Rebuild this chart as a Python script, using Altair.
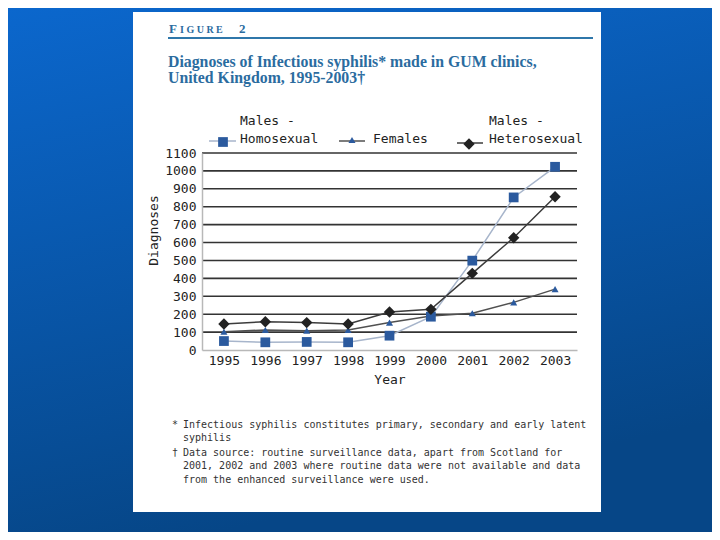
import altair as alt
import pandas as pd

# ---- data ----
years = [1995, 1996, 1997, 1998, 1999, 2000, 2001, 2002, 2003]
homosexual = [50, 43, 45, 43, 80, 186, 499, 852, 1023]
females = [102, 112, 108, 112, 153, 190, 205, 266, 340]
heterosexual = [145, 158, 153, 145, 212, 227, 428, 627, 856]
series_names = ["Males - Homosexual", "Females", "Males - Heterosexual"]
grid_values = [100, 200, 300, 400, 500, 600, 700, 800, 900, 1000, 1100]
y_ticks = [0, 100, 200, 300, 400, 500, 600, 700, 800, 900, 1000, 1100]

footnotes = [
    ("*", "Infectious syphilis constitutes primary, secondary and early latent"),
    ("", "syphilis"),
    ("\u2020", "Data source: routine surveillance data, apart from Scotland for"),
    ("", "2001, 2002 and 2003 where routine data were not available and data"),
    ("", "from the enhanced surveillance were used."),
]

W, H = 375, 197
MONO = "DejaVu Sans Mono"
SERIF = "Liberation Serif"
TITLE_BLUE = "#2b6c9f"

one = pd.DataFrame({"a": [0]})


def x_enc():
    return alt.X(
        "year:O",
        scale=alt.Scale(type="point", padding=0.53),
        axis=alt.Axis(
            title="Year", labelAngle=0, ticks=False, grid=False,
            domainColor="#b8b8b8", domainWidth=1.5, labelPadding=4,
            titleY=29, titleBaseline="middle", zindex=1,
        ),
    )


def y_enc(field):
    return alt.Y(
        field,
        scale=alt.Scale(domain=[0, 1100], nice=False),
        axis=alt.Axis(
            title="Diagnoses", values=y_ticks, format="d", ticks=False, grid=False,
            domainColor="#b8b8b8", domainWidth=1.5, labelPadding=6,
            titleX=-49, titleY=77, titleAngle=-90, titleBaseline="middle",
            titleAlign="center", zindex=1,
        ),
    )


layers = []

# slide background (gradient) and white figure panel
grad = alt.Gradient(
    gradient="linear",
    stops=[alt.GradientStop(color="#0b67cd", offset=0),
           alt.GradientStop(color="#064687", offset=1)],
    x1=0, x2=0.3, y1=0, y2=1,
)
layers.append(alt.Chart(one).mark_rect(fill=grad).encode(
    x=alt.value(-194), x2=alt.value(510), y=alt.value(-145), y2=alt.value(379)))
layers.append(alt.Chart(one).mark_rect(fill="white").encode(
    x=alt.value(-69), x2=alt.value(399), y=alt.value(-141), y2=alt.value(359)))

# gridlines
grid_df = pd.DataFrame({"v": grid_values})
layers.append(alt.Chart(grid_df).mark_rule(color="#333333", strokeWidth=1.6).encode(
    y=y_enc("v:Q"), x=alt.value(0), x2=alt.value(W)))

# series
values = [homosexual, females, heterosexual]
line_colors = ["#a7b5cb", "#505050", "#3c3c3c"]
shapes = ["square", "triangle-up", "diamond"]
fills = ["#2b5a9e", "#2b5a9e", "#222222"]
sizes = [95, 50, 130]

for name, vals, lc in zip(series_names, values, line_colors):
    df = pd.DataFrame({"year": years, "value": vals, "series": name})
    layers.append(alt.Chart(df).mark_line(color=lc, strokeWidth=1.5).encode(
        x=x_enc(), y=y_enc("value:Q")))
for name, vals, shp, fc, sz in zip(series_names, values, shapes, fills, sizes):
    df = pd.DataFrame({"year": years, "value": vals, "series": name})
    layers.append(alt.Chart(df).mark_point(
        shape=shp, filled=True, fill=fc, opacity=1, size=sz, strokeWidth=0).encode(
        x=x_enc(), y=y_enc("value:Q")))

# legend (manual)
leg = [
    # line x1, x2, y, marker x, marker y, text x, lines
    (7, 34, -12, 21, -11, 38, ["Males -", "Homosexual"]),
    (137, 163, -12, 150, -13, 171, ["Females"]),
    (255, 281, -10, 267, -9, 287, ["Males -", "Heterosexual"]),
]
for (lx1, lx2, ly, mx, my, tx, txt), lc, shp, fc, sz in zip(leg, line_colors, shapes, fills, sizes):
    layers.append(alt.Chart(one).mark_rule(color=lc, strokeWidth=1.5).encode(
        x=alt.value(lx1), x2=alt.value(lx2), y=alt.value(ly)))
    layers.append(alt.Chart(one).mark_point(
        shape=shp, filled=True, fill=fc, opacity=1, size=sz, strokeWidth=0).encode(
        x=alt.value(mx), y=alt.value(my)))
    if len(txt) == 2:
        ys = [-32, -14]
    else:
        ys = [-14]
    for t, yy in zip(txt, ys):
        layers.append(alt.Chart(one).mark_text(
            text=t, font=MONO, fontSize=13, color="#222", align="left",
            baseline="middle").encode(x=alt.value(tx), y=alt.value(yy)))

# figure header
layers.append(alt.Chart(one).mark_text(
    text="F", font=SERIF, fontSize=13, fontWeight="bold", color=TITLE_BLUE,
    align="left", baseline="alphabetic").encode(x=alt.value(-33), y=alt.value(-120)))
layers.append(alt.Chart(one).mark_text(
    text="I  G  U  R  E", font=SERIF, fontSize=10, fontWeight="bold", color=TITLE_BLUE,
    align="left", baseline="alphabetic").encode(x=alt.value(-22), y=alt.value(-120)))
layers.append(alt.Chart(one).mark_text(
    text="2", font=SERIF, fontSize=13, fontWeight="bold", color=TITLE_BLUE,
    align="left", baseline="alphabetic").encode(x=alt.value(37), y=alt.value(-120)))
layers.append(alt.Chart(one).mark_rule(color="#2f77aa", strokeWidth=2).encode(
    x=alt.value(-34), x2=alt.value(391), y=alt.value(-115)))
layers.append(alt.Chart(one).mark_text(
    text="Diagnoses of Infectious syphilis* made in GUM clinics,", font=SERIF,
    fontSize=15.8, fontWeight="bold", color=TITLE_BLUE, align="left",
    baseline="alphabetic").encode(x=alt.value(-34), y=alt.value(-86)))
layers.append(alt.Chart(one).mark_text(
    text="United Kingdom,  1995-2003\u2020", font=SERIF,
    fontSize=15.8, fontWeight="bold", color=TITLE_BLUE, align="left",
    baseline="alphabetic").encode(x=alt.value(-34), y=alt.value(-70)))

# footnotes
fy = [272, 285, 300, 313, 327]
for (sym, txt), yy in zip(footnotes, fy):
    if sym:
        layers.append(alt.Chart(one).mark_text(
            text=sym, font=MONO, fontSize=10, color="#333", align="left",
            baseline="middle").encode(x=alt.value(-30), y=alt.value(yy)))
    layers.append(alt.Chart(one).mark_text(
        text=txt, font=MONO, fontSize=10, color="#333", align="left",
        baseline="middle").encode(x=alt.value(-19), y=alt.value(yy)))

chart = alt.layer(*layers).properties(
    width=W, height=H,
    autosize=alt.AutoSizeParams(type="none"),
    padding={"left": 194, "top": 145, "right": 135, "bottom": 182},
).configure(background="#0a5cb8").configure_view(stroke=None).configure_axis(
    labelFont=MONO, labelFontSize=13, labelColor="#222",
    titleFont=MONO, titleFontSize=13, titleColor="#222", titleFontWeight="normal",
)

chart.save("out.html", embed_options={"renderer": "svg", "actions": False})
